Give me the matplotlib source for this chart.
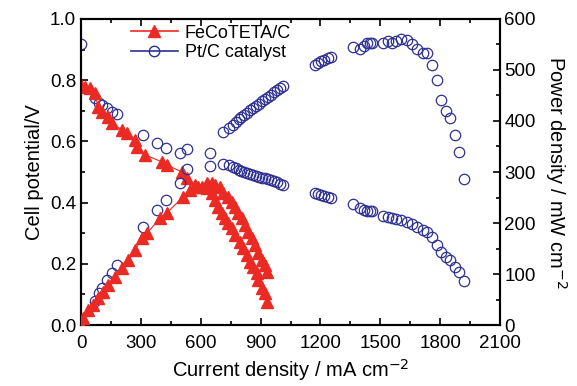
import matplotlib
matplotlib.use("Agg")
import matplotlib.pyplot as plt
from matplotlib.ticker import MultipleLocator
from matplotlib.lines import Line2D

plt.rcParams['font.family'] = ['Liberation Sans', 'DejaVu Sans']

# FeCoTETA/C polarization
fe_pol_i = [0, 20, 45, 70, 85, 105, 135, 155, 205, 230, 271, 281, 321, 406, 431, 506, 531, 571, 607, 632,
            657, 672, 687, 707, 722, 737, 757, 772, 797, 812, 832, 847, 862, 882, 887, 907, 922, 932]
fe_pol_v = [0.784, 0.778, 0.775, 0.758, 0.712, 0.696, 0.680, 0.660, 0.637, 0.627, 0.605, 0.582, 0.556, 0.533,
            0.523, 0.500, 0.480, 0.458, 0.451, 0.448,
            0.431, 0.408, 0.386, 0.366, 0.350, 0.333, 0.317, 0.294, 0.271, 0.252, 0.229, 0.206, 0.190, 0.170,
            0.147, 0.121, 0.105, 0.075]
# FeCoTETA/C power density
fe_pow_i = [0, 10, 35, 60, 85, 110, 135, 170, 205, 236, 271, 306, 331, 396, 431, 511, 546, 586, 632, 657, 672,
            697, 712, 737, 757, 772, 787, 807, 822, 837, 857, 872, 887, 907, 922, 932]
fe_pow_p = [0, 14, 29, 39, 53, 65, 78, 94, 112, 127, 147, 171, 180, 210, 220, 251, 265, 271, 278, 278, 275,
            271, 259, 251, 241, 231, 220, 210, 196, 182, 171, 157, 141, 127, 118, 104]

# Pt/C polarization and power density
pt_i = [0, 70, 90, 105, 130, 155, 180, 311, 383, 428, 498, 531, 647,
        712, 740, 760, 775, 790, 800, 815, 830, 845, 860, 875, 890, 905, 920, 935, 950, 965, 980, 995, 1010,
        1173, 1190, 1205, 1220, 1238, 1255,
        1363, 1400, 1418, 1435, 1448, 1460,
        1514, 1539, 1559, 1579, 1604, 1634, 1659, 1684, 1714, 1734, 1759, 1782, 1806, 1829, 1849, 1874, 1895, 1918]
pt_v = [0.918, 0.742, 0.725, 0.719, 0.709, 0.696, 0.690, 0.621, 0.595, 0.578, 0.562, 0.575, 0.520,
        0.527, 0.522, 0.516, 0.512, 0.508, 0.503, 0.500, 0.497, 0.494, 0.491, 0.488, 0.485, 0.482, 0.479,
        0.476, 0.473, 0.469, 0.466, 0.462, 0.458,
        0.431, 0.428, 0.424, 0.421, 0.418, 0.415,
        0.395, 0.382, 0.376, 0.373, 0.373, 0.372,
        0.356, 0.353, 0.350, 0.346, 0.342, 0.336, 0.329, 0.320, 0.310, 0.304, 0.288, 0.261, 0.239, 0.222,
        0.212, 0.190, 0.173, 0.143]
pt_p = [0, 47, 63, 72, 88, 102, 118, 192, 225, 245, 278, 306, 337,
        378, 386, 393, 398, 403, 407, 412, 416, 421, 425, 430, 434, 439, 443, 447, 451, 456, 460, 464, 469,
        510, 514, 518, 520, 524, 525,
        545, 541, 547, 553, 553, 553,
        553, 557, 553, 557, 561, 559, 551, 541, 533, 533, 510, 480, 441, 420, 406, 373, 339, 286]

red = '#ec2a24'
blue = '#2e3192'

fig = plt.figure(figsize=(5.77, 3.86), dpi=100)
ax = fig.add_axes([0.1404, 0.158, 0.7262, 0.7928])
ax2 = ax.twinx()

ax.plot(fe_pol_i, fe_pol_v, color=red, lw=0.8, marker='^', ms=8, mec=red, mfc=red, zorder=3)
ax2.plot(fe_pow_i, fe_pow_p, color=red, lw=0.8, marker='^', ms=8, mec=red, mfc=red, zorder=3)
ax.plot(pt_i, pt_v, ls='none', marker='o', ms=7.5, mec=blue, mfc='none', mew=0.9, zorder=2)
ax2.plot(pt_i, pt_p, ls='none', marker='o', ms=7.5, mec=blue, mfc='none', mew=0.9, zorder=2)

ax.set_xlim(0, 2100)
ax.set_ylim(0, 1.0)
ax2.set_ylim(0, 600)
ax.xaxis.set_major_locator(MultipleLocator(300))
ax.xaxis.set_minor_locator(MultipleLocator(150))
ax.yaxis.set_major_locator(MultipleLocator(0.2))
ax.yaxis.set_minor_locator(MultipleLocator(0.1))
ax2.yaxis.set_major_locator(MultipleLocator(100))
ax2.yaxis.set_minor_locator(MultipleLocator(50))
ax.yaxis.set_major_formatter(plt.FuncFormatter(lambda v, p: f"{v:.1f}"))

for a in (ax, ax2):
    for s in a.spines.values():
        s.set_linewidth(1.5)
ax.tick_params(axis='both', which='both', direction='in', labelsize=13.5, width=1.2, top=True)
ax.tick_params(which='major', length=5)
ax.tick_params(which='minor', length=3)
ax.tick_params(axis='x', pad=7)
ax2.tick_params(axis='y', which='both', direction='in', labelsize=13.5, width=1.2, pad=3)
ax2.tick_params(which='major', length=5)
ax2.tick_params(which='minor', length=3)

ax.set_xlabel('Current density / mA cm$^{-2}$', fontsize=14.5, labelpad=4)
ax.set_ylabel('Cell potential/V', fontsize=14.5, labelpad=4)
ax2.set_ylabel('Power density / mW cm$^{-2}$', fontsize=14.5, rotation=270, labelpad=24)

handles = [Line2D([], [], color=red, lw=1.2, marker='^', ms=8, mfc=red, mec=red),
           Line2D([], [], color=blue, lw=1.2, marker='o', ms=7.5, mfc='none', mec=blue)]
ax.legend(handles, ['FeCoTETA/C', 'Pt/C catalyst'], loc='upper left', bbox_to_anchor=(0.08, 1.035),
          frameon=False, fontsize=13, handlelength=2.6, handletextpad=0.4, labelspacing=0.15)

fig.savefig('out.png', dpi=100)
